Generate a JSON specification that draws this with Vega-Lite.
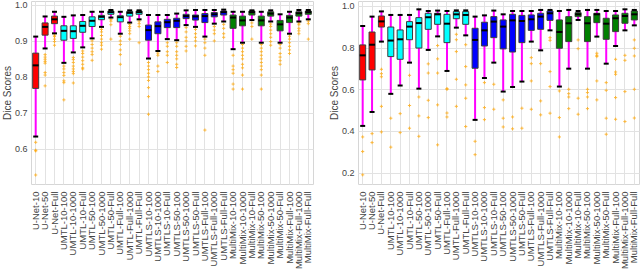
{
"$schema": "https://vega.github.io/schema/vega-lite/v6.json",
"background": "white",
"padding": {"left": 1, "top": 0, "right": 1, "bottom": 0},
"spacing": 14,
"config": {
 "font": "Liberation Sans",
 "view": {"stroke": "#d6d6d6", "strokeWidth": 1},
 "axis": {"labelFont": "Liberation Sans", "titleFont": "Liberation Sans", "labelColor": "#444444", "titleColor": "#444444", "gridColor": "#e2e2e2", "gridWidth": 1, "domain": false, "ticks": false, "titleFontWeight": "normal"}
},
"datasets": {
 "boxes": [
  {"p":"L","m":"U-Net-10","g":"U-Net","lo":0.634,"q1":0.768,"med":0.832,"q3":0.866,"hi":0.912},
  {"p":"L","m":"U-Net-50","g":"U-Net","lo":0.879,"q1":0.916,"med":0.939,"q3":0.950,"hi":0.968},
  {"p":"L","m":"U-Net-Full","g":"U-Net","lo":0.921,"q1":0.948,"med":0.960,"q3":0.969,"hi":0.981},
  {"p":"L","m":"UMTL-10-100","g":"UMTL","lo":0.839,"q1":0.902,"med":0.928,"q3":0.942,"hi":0.967},
  {"p":"L","m":"UMTL-10-1000","g":"UMTL","lo":0.868,"q1":0.907,"med":0.927,"q3":0.942,"hi":0.971},
  {"p":"L","m":"UMTL-10-Full","g":"UMTL","lo":0.882,"q1":0.924,"med":0.942,"q3":0.954,"hi":0.972},
  {"p":"L","m":"UMTL-50-100","g":"UMTL","lo":0.907,"q1":0.940,"med":0.956,"q3":0.967,"hi":0.981},
  {"p":"L","m":"UMTL-50-1000","g":"UMTL","lo":0.939,"q1":0.959,"med":0.967,"q3":0.971,"hi":0.981},
  {"p":"L","m":"UMTL-50-Full","g":"UMTL","lo":0.965,"q1":0.974,"med":0.980,"q3":0.983,"hi":0.986},
  {"p":"L","m":"UMTL-Full-100","g":"UMTL","lo":0.920,"q1":0.953,"med":0.966,"q3":0.970,"hi":0.981},
  {"p":"L","m":"UMTL-Full-1000","g":"UMTL","lo":0.951,"q1":0.969,"med":0.978,"q3":0.982,"hi":0.985},
  {"p":"L","m":"UMTL-Full-Full","g":"UMTL","lo":0.960,"q1":0.974,"med":0.980,"q3":0.983,"hi":0.985},
  {"p":"L","m":"UMTLS-10-100","g":"UMTLS","lo":0.851,"q1":0.902,"med":0.930,"q3":0.944,"hi":0.972},
  {"p":"L","m":"UMTLS-10-1000","g":"UMTLS","lo":0.872,"q1":0.920,"med":0.941,"q3":0.953,"hi":0.972},
  {"p":"L","m":"UMTLS-10-Full","g":"UMTLS","lo":0.905,"q1":0.937,"med":0.952,"q3":0.960,"hi":0.972},
  {"p":"L","m":"UMTLS-50-100","g":"UMTLS","lo":0.902,"q1":0.937,"med":0.956,"q3":0.963,"hi":0.976},
  {"p":"L","m":"UMTLS-50-1000","g":"UMTLS","lo":0.944,"q1":0.962,"med":0.969,"q3":0.974,"hi":0.985},
  {"p":"L","m":"UMTLS-50-Full","g":"UMTLS","lo":0.939,"q1":0.958,"med":0.968,"q3":0.972,"hi":0.986},
  {"p":"L","m":"UMTLS-Full-100","g":"UMTLS","lo":0.912,"q1":0.951,"med":0.969,"q3":0.976,"hi":0.986},
  {"p":"L","m":"UMTLS-Full-1000","g":"UMTLS","lo":0.948,"q1":0.967,"med":0.974,"q3":0.979,"hi":0.986},
  {"p":"L","m":"UMTLS-Full-Full","g":"UMTLS","lo":0.954,"q1":0.972,"med":0.980,"q3":0.983,"hi":0.987},
  {"p":"L","m":"MultiMix-10-100","g":"MultiMix","lo":0.877,"q1":0.935,"med":0.965,"q3":0.972,"hi":0.981},
  {"p":"L","m":"MultiMix-10-1000","g":"MultiMix","lo":0.895,"q1":0.942,"med":0.957,"q3":0.969,"hi":0.981},
  {"p":"L","m":"MultiMix-10-Full","g":"MultiMix","lo":0.958,"q1":0.972,"med":0.980,"q3":0.983,"hi":0.985},
  {"p":"L","m":"MultiMix-50-100","g":"MultiMix","lo":0.895,"q1":0.942,"med":0.957,"q3":0.969,"hi":0.981},
  {"p":"L","m":"MultiMix-50-1000","g":"MultiMix","lo":0.954,"q1":0.969,"med":0.976,"q3":0.981,"hi":0.985},
  {"p":"L","m":"MultiMix-50-Full","g":"MultiMix","lo":0.895,"q1":0.928,"med":0.946,"q3":0.957,"hi":0.974},
  {"p":"L","m":"MultiMix-Full-100","g":"MultiMix","lo":0.920,"q1":0.951,"med":0.965,"q3":0.971,"hi":0.981},
  {"p":"L","m":"MultiMix-Full-1000","g":"MultiMix","lo":0.954,"q1":0.969,"med":0.977,"q3":0.981,"hi":0.986},
  {"p":"L","m":"MultiMix-Full-Full","g":"MultiMix","lo":0.960,"q1":0.974,"med":0.980,"q3":0.983,"hi":0.986},
  {"p":"R","m":"U-Net-10","g":"U-Net","lo":0.424,"q1":0.645,"med":0.763,"q3":0.813,"hi":0.904},
  {"p":"R","m":"U-Net-50","g":"U-Net","lo":0.491,"q1":0.693,"med":0.814,"q3":0.875,"hi":0.949},
  {"p":"R","m":"U-Net-Full","g":"U-Net","lo":0.829,"q1":0.899,"med":0.926,"q3":0.952,"hi":0.974},
  {"p":"R","m":"UMTL-10-100","g":"UMTL","lo":0.578,"q1":0.757,"med":0.834,"q3":0.899,"hi":0.957},
  {"p":"R","m":"UMTL-10-1000","g":"UMTL","lo":0.618,"q1":0.744,"med":0.840,"q3":0.885,"hi":0.957},
  {"p":"R","m":"UMTL-10-Full","g":"UMTL","lo":0.728,"q1":0.838,"med":0.901,"q3":0.925,"hi":0.957},
  {"p":"R","m":"UMTL-50-100","g":"UMTL","lo":0.603,"q1":0.798,"med":0.918,"q3":0.944,"hi":0.984},
  {"p":"R","m":"UMTL-50-1000","g":"UMTL","lo":0.789,"q1":0.888,"med":0.946,"q3":0.965,"hi":0.976},
  {"p":"R","m":"UMTL-50-Full","g":"UMTL","lo":0.854,"q1":0.912,"med":0.960,"q3":0.965,"hi":0.978},
  {"p":"R","m":"UMTL-Full-100","g":"UMTL","lo":0.688,"q1":0.824,"med":0.915,"q3":0.960,"hi":0.976},
  {"p":"R","m":"UMTL-Full-1000","g":"UMTL","lo":0.896,"q1":0.939,"med":0.960,"q3":0.973,"hi":0.979},
  {"p":"R","m":"UMTL-Full-Full","g":"UMTL","lo":0.859,"q1":0.912,"med":0.957,"q3":0.973,"hi":0.979},
  {"p":"R","m":"UMTLS-10-100","g":"UMTLS","lo":0.453,"q1":0.701,"med":0.837,"q3":0.893,"hi":0.949},
  {"p":"R","m":"UMTLS-10-1000","g":"UMTLS","lo":0.654,"q1":0.808,"med":0.883,"q3":0.922,"hi":0.955},
  {"p":"R","m":"UMTLS-10-Full","g":"UMTLS","lo":0.728,"q1":0.848,"med":0.925,"q3":0.949,"hi":0.978},
  {"p":"R","m":"UMTLS-50-100","g":"UMTLS","lo":0.589,"q1":0.794,"med":0.901,"q3":0.933,"hi":0.960},
  {"p":"R","m":"UMTLS-50-1000","g":"UMTLS","lo":0.611,"q1":0.779,"med":0.931,"q3":0.960,"hi":0.976},
  {"p":"R","m":"UMTLS-50-Full","g":"UMTLS","lo":0.637,"q1":0.824,"med":0.928,"q3":0.955,"hi":0.976},
  {"p":"R","m":"UMTLS-Full-100","g":"UMTLS","lo":0.829,"q1":0.883,"med":0.936,"q3":0.957,"hi":0.976},
  {"p":"R","m":"UMTLS-Full-1000","g":"UMTLS","lo":0.787,"q1":0.888,"med":0.949,"q3":0.965,"hi":0.981},
  {"p":"R","m":"UMTLS-Full-Full","g":"UMTLS","lo":0.883,"q1":0.931,"med":0.965,"q3":0.976,"hi":0.981},
  {"p":"R","m":"MultiMix-10-100","g":"MultiMix","lo":0.613,"q1":0.797,"med":0.875,"q3":0.933,"hi":0.976},
  {"p":"R","m":"MultiMix-10-1000","g":"MultiMix","lo":0.699,"q1":0.829,"med":0.917,"q3":0.949,"hi":0.981},
  {"p":"R","m":"MultiMix-10-Full","g":"MultiMix","lo":0.933,"q1":0.949,"med":0.960,"q3":0.968,"hi":0.976},
  {"p":"R","m":"MultiMix-50-100","g":"MultiMix","lo":0.699,"q1":0.829,"med":0.917,"q3":0.949,"hi":0.981},
  {"p":"R","m":"MultiMix-50-1000","g":"MultiMix","lo":0.853,"q1":0.920,"med":0.960,"q3":0.965,"hi":0.981},
  {"p":"R","m":"MultiMix-50-Full","g":"MultiMix","lo":0.723,"q1":0.840,"med":0.915,"q3":0.941,"hi":0.976},
  {"p":"R","m":"MultiMix-Full-100","g":"MultiMix","lo":0.808,"q1":0.877,"med":0.941,"q3":0.957,"hi":0.976},
  {"p":"R","m":"MultiMix-Full-1000","g":"MultiMix","lo":0.883,"q1":0.917,"med":0.952,"q3":0.965,"hi":0.984},
  {"p":"R","m":"MultiMix-Full-Full","g":"MultiMix","lo":0.907,"q1":0.933,"med":0.960,"q3":0.976,"hi":0.981}
 ],
 "outliers": [
  {"p":"L","m":"U-Net-10","v":0.618},{"p":"L","m":"U-Net-10","v":0.596},{"p":"L","m":"U-Net-10","v":0.594},{"p":"L","m":"U-Net-10","v":0.527},
  {"p":"L","m":"U-Net-50","v":0.862},{"p":"L","m":"U-Net-50","v":0.855},{"p":"L","m":"U-Net-50","v":0.849},{"p":"L","m":"U-Net-50","v":0.843},{"p":"L","m":"U-Net-50","v":0.838},{"p":"L","m":"U-Net-50","v":0.812},{"p":"L","m":"U-Net-50","v":0.805},{"p":"L","m":"U-Net-50","v":0.775},
  {"p":"L","m":"U-Net-Full","v":0.916},{"p":"L","m":"U-Net-Full","v":0.912},{"p":"L","m":"U-Net-Full","v":0.905},{"p":"L","m":"U-Net-Full","v":0.898},{"p":"L","m":"U-Net-Full","v":0.888},
  {"p":"L","m":"UMTL-10-100","v":0.830},{"p":"L","m":"UMTL-10-100","v":0.822},{"p":"L","m":"UMTL-10-100","v":0.812},{"p":"L","m":"UMTL-10-100","v":0.804},{"p":"L","m":"UMTL-10-100","v":0.789},{"p":"L","m":"UMTL-10-100","v":0.784},{"p":"L","m":"UMTL-10-100","v":0.736},
  {"p":"L","m":"UMTL-10-1000","v":0.854},{"p":"L","m":"UMTL-10-1000","v":0.848},{"p":"L","m":"UMTL-10-1000","v":0.840},{"p":"L","m":"UMTL-10-1000","v":0.830},{"p":"L","m":"UMTL-10-1000","v":0.822},{"p":"L","m":"UMTL-10-1000","v":0.815},{"p":"L","m":"UMTL-10-1000","v":0.809},{"p":"L","m":"UMTL-10-1000","v":0.783},
  {"p":"L","m":"UMTL-10-Full","v":0.872},{"p":"L","m":"UMTL-10-Full","v":0.865},{"p":"L","m":"UMTL-10-Full","v":0.855},{"p":"L","m":"UMTL-10-Full","v":0.845},{"p":"L","m":"UMTL-10-Full","v":0.835},{"p":"L","m":"UMTL-10-Full","v":0.825},{"p":"L","m":"UMTL-10-Full","v":0.822},
  {"p":"L","m":"UMTL-50-100","v":0.900},{"p":"L","m":"UMTL-50-100","v":0.890},{"p":"L","m":"UMTL-50-100","v":0.880},{"p":"L","m":"UMTL-50-100","v":0.870},{"p":"L","m":"UMTL-50-100","v":0.862},{"p":"L","m":"UMTL-50-100","v":0.846},
  {"p":"L","m":"UMTL-50-1000","v":0.932},{"p":"L","m":"UMTL-50-1000","v":0.925},{"p":"L","m":"UMTL-50-1000","v":0.915},{"p":"L","m":"UMTL-50-1000","v":0.905},{"p":"L","m":"UMTL-50-1000","v":0.895},{"p":"L","m":"UMTL-50-1000","v":0.888},{"p":"L","m":"UMTL-50-1000","v":0.877},
  {"p":"L","m":"UMTL-50-Full","v":0.960},{"p":"L","m":"UMTL-50-Full","v":0.955},{"p":"L","m":"UMTL-50-Full","v":0.945},{"p":"L","m":"UMTL-50-Full","v":0.905},
  {"p":"L","m":"UMTL-Full-100","v":0.913},{"p":"L","m":"UMTL-Full-100","v":0.900},{"p":"L","m":"UMTL-Full-100","v":0.890},{"p":"L","m":"UMTL-Full-100","v":0.875},{"p":"L","m":"UMTL-Full-100","v":0.862},{"p":"L","m":"UMTL-Full-100","v":0.835},
  {"p":"L","m":"UMTL-Full-1000","v":0.946},{"p":"L","m":"UMTL-Full-1000","v":0.940},{"p":"L","m":"UMTL-Full-1000","v":0.935},{"p":"L","m":"UMTL-Full-1000","v":0.928},{"p":"L","m":"UMTL-Full-1000","v":0.920},{"p":"L","m":"UMTL-Full-1000","v":0.905},
  {"p":"L","m":"UMTL-Full-Full","v":0.955},{"p":"L","m":"UMTL-Full-Full","v":0.948},{"p":"L","m":"UMTL-Full-Full","v":0.940},{"p":"L","m":"UMTL-Full-Full","v":0.895},
  {"p":"L","m":"UMTLS-10-100","v":0.840},{"p":"L","m":"UMTLS-10-100","v":0.830},{"p":"L","m":"UMTLS-10-100","v":0.820},{"p":"L","m":"UMTLS-10-100","v":0.810},{"p":"L","m":"UMTLS-10-100","v":0.800},{"p":"L","m":"UMTLS-10-100","v":0.790},{"p":"L","m":"UMTLS-10-100","v":0.770},{"p":"L","m":"UMTLS-10-100","v":0.745},{"p":"L","m":"UMTLS-10-100","v":0.696},
  {"p":"L","m":"UMTLS-10-1000","v":0.866},{"p":"L","m":"UMTLS-10-1000","v":0.860},{"p":"L","m":"UMTLS-10-1000","v":0.830},{"p":"L","m":"UMTLS-10-1000","v":0.815},
  {"p":"L","m":"UMTLS-10-Full","v":0.895},{"p":"L","m":"UMTLS-10-Full","v":0.885},{"p":"L","m":"UMTLS-10-Full","v":0.870},{"p":"L","m":"UMTLS-10-Full","v":0.860},{"p":"L","m":"UMTLS-10-Full","v":0.840},
  {"p":"L","m":"UMTLS-50-100","v":0.895},{"p":"L","m":"UMTLS-50-100","v":0.885},{"p":"L","m":"UMTLS-50-100","v":0.870},{"p":"L","m":"UMTLS-50-100","v":0.860},{"p":"L","m":"UMTLS-50-100","v":0.850},{"p":"L","m":"UMTLS-50-100","v":0.835},{"p":"L","m":"UMTLS-50-100","v":0.826},
  {"p":"L","m":"UMTLS-50-1000","v":0.937},{"p":"L","m":"UMTLS-50-1000","v":0.925},{"p":"L","m":"UMTLS-50-1000","v":0.910},{"p":"L","m":"UMTLS-50-1000","v":0.900},{"p":"L","m":"UMTLS-50-1000","v":0.885},{"p":"L","m":"UMTLS-50-1000","v":0.872},
  {"p":"L","m":"UMTLS-50-Full","v":0.932},{"p":"L","m":"UMTLS-50-Full","v":0.920},{"p":"L","m":"UMTLS-50-Full","v":0.910},{"p":"L","m":"UMTLS-50-Full","v":0.900},{"p":"L","m":"UMTLS-50-Full","v":0.886},
  {"p":"L","m":"UMTLS-Full-100","v":0.905},{"p":"L","m":"UMTLS-Full-100","v":0.895},{"p":"L","m":"UMTLS-Full-100","v":0.880},{"p":"L","m":"UMTLS-Full-100","v":0.860},{"p":"L","m":"UMTLS-Full-100","v":0.652},
  {"p":"L","m":"UMTLS-Full-1000","v":0.940},{"p":"L","m":"UMTLS-Full-1000","v":0.930},{"p":"L","m":"UMTLS-Full-1000","v":0.920},{"p":"L","m":"UMTLS-Full-1000","v":0.900},
  {"p":"L","m":"UMTLS-Full-Full","v":0.946},{"p":"L","m":"UMTLS-Full-Full","v":0.935},{"p":"L","m":"UMTLS-Full-Full","v":0.920},{"p":"L","m":"UMTLS-Full-Full","v":0.910},
  {"p":"L","m":"MultiMix-10-100","v":0.860},{"p":"L","m":"MultiMix-10-100","v":0.830},{"p":"L","m":"MultiMix-10-100","v":0.820},{"p":"L","m":"MultiMix-10-100","v":0.810},{"p":"L","m":"MultiMix-10-100","v":0.780},{"p":"L","m":"MultiMix-10-100","v":0.766},
  {"p":"L","m":"MultiMix-10-1000","v":0.890},{"p":"L","m":"MultiMix-10-1000","v":0.880},{"p":"L","m":"MultiMix-10-1000","v":0.870},{"p":"L","m":"MultiMix-10-1000","v":0.860},{"p":"L","m":"MultiMix-10-1000","v":0.850},{"p":"L","m":"MultiMix-10-1000","v":0.835},{"p":"L","m":"MultiMix-10-1000","v":0.825},{"p":"L","m":"MultiMix-10-1000","v":0.805},{"p":"L","m":"MultiMix-10-1000","v":0.766},
  {"p":"L","m":"MultiMix-10-Full","v":0.950},{"p":"L","m":"MultiMix-10-Full","v":0.940},{"p":"L","m":"MultiMix-10-Full","v":0.905},
  {"p":"L","m":"MultiMix-50-100","v":0.890},{"p":"L","m":"MultiMix-50-100","v":0.880},{"p":"L","m":"MultiMix-50-100","v":0.870},{"p":"L","m":"MultiMix-50-100","v":0.860},{"p":"L","m":"MultiMix-50-100","v":0.850},{"p":"L","m":"MultiMix-50-100","v":0.840},{"p":"L","m":"MultiMix-50-100","v":0.830},{"p":"L","m":"MultiMix-50-100","v":0.820},{"p":"L","m":"MultiMix-50-100","v":0.805},{"p":"L","m":"MultiMix-50-100","v":0.766},
  {"p":"L","m":"MultiMix-50-1000","v":0.947},{"p":"L","m":"MultiMix-50-1000","v":0.940},{"p":"L","m":"MultiMix-50-1000","v":0.930},{"p":"L","m":"MultiMix-50-1000","v":0.920},{"p":"L","m":"MultiMix-50-1000","v":0.910},{"p":"L","m":"MultiMix-50-1000","v":0.898},{"p":"L","m":"MultiMix-50-1000","v":0.888},
  {"p":"L","m":"MultiMix-50-Full","v":0.890},{"p":"L","m":"MultiMix-50-Full","v":0.880},{"p":"L","m":"MultiMix-50-Full","v":0.865},{"p":"L","m":"MultiMix-50-Full","v":0.855},{"p":"L","m":"MultiMix-50-Full","v":0.845},{"p":"L","m":"MultiMix-50-Full","v":0.835},
  {"p":"L","m":"MultiMix-Full-100","v":0.913},{"p":"L","m":"MultiMix-Full-100","v":0.905},{"p":"L","m":"MultiMix-Full-100","v":0.895},{"p":"L","m":"MultiMix-Full-100","v":0.885},{"p":"L","m":"MultiMix-Full-100","v":0.875},{"p":"L","m":"MultiMix-Full-100","v":0.865},
  {"p":"L","m":"MultiMix-Full-1000","v":0.950},{"p":"L","m":"MultiMix-Full-1000","v":0.945},{"p":"L","m":"MultiMix-Full-1000","v":0.935},{"p":"L","m":"MultiMix-Full-1000","v":0.928},{"p":"L","m":"MultiMix-Full-1000","v":0.920},
  {"p":"L","m":"MultiMix-Full-Full","v":0.955},{"p":"L","m":"MultiMix-Full-Full","v":0.948},{"p":"L","m":"MultiMix-Full-Full","v":0.905},
  {"p":"R","m":"U-Net-10","v":0.371},{"p":"R","m":"U-Net-10","v":0.301},{"p":"R","m":"U-Net-10","v":0.189},
  {"p":"R","m":"U-Net-50","v":0.387},{"p":"R","m":"U-Net-50","v":0.344},
  {"p":"R","m":"U-Net-Full","v":0.696},{"p":"R","m":"U-Net-Full","v":0.675},{"p":"R","m":"U-Net-Full","v":0.660},{"p":"R","m":"U-Net-Full","v":0.518},{"p":"R","m":"U-Net-Full","v":0.395},
  {"p":"R","m":"UMTL-10-100","v":0.461},{"p":"R","m":"UMTL-10-100","v":0.322},
  {"p":"R","m":"UMTL-10-1000","v":0.483},{"p":"R","m":"UMTL-10-1000","v":0.392},
  {"p":"R","m":"UMTL-10-Full","v":0.667},{"p":"R","m":"UMTL-10-Full","v":0.522},{"p":"R","m":"UMTL-10-Full","v":0.413},
  {"p":"R","m":"UMTL-50-100","v":0.563},{"p":"R","m":"UMTL-50-100","v":0.472},{"p":"R","m":"UMTL-50-100","v":0.374},
  {"p":"R","m":"UMTL-50-1000","v":0.722},{"p":"R","m":"UMTL-50-1000","v":0.678},{"p":"R","m":"UMTL-50-1000","v":0.547},{"p":"R","m":"UMTL-50-1000","v":0.464},
  {"p":"R","m":"UMTL-50-Full","v":0.810},{"p":"R","m":"UMTL-50-Full","v":0.746},{"p":"R","m":"UMTL-50-Full","v":0.678},{"p":"R","m":"UMTL-50-Full","v":0.525},{"p":"R","m":"UMTL-50-Full","v":0.333},
  {"p":"R","m":"UMTL-Full-100","v":0.603},{"p":"R","m":"UMTL-Full-100","v":0.600},{"p":"R","m":"UMTL-Full-100","v":0.486},{"p":"R","m":"UMTL-Full-100","v":0.467},
  {"p":"R","m":"UMTL-Full-1000","v":0.864},{"p":"R","m":"UMTL-Full-1000","v":0.838},{"p":"R","m":"UMTL-Full-1000","v":0.781},{"p":"R","m":"UMTL-Full-1000","v":0.648},{"p":"R","m":"UMTL-Full-1000","v":0.518},
  {"p":"R","m":"UMTL-Full-Full","v":0.814},{"p":"R","m":"UMTL-Full-Full","v":0.709},{"p":"R","m":"UMTL-Full-Full","v":0.621},{"p":"R","m":"UMTL-Full-Full","v":0.557},{"p":"R","m":"UMTL-Full-Full","v":0.421},
  {"p":"R","m":"UMTLS-10-100","v":0.350},{"p":"R","m":"UMTLS-10-100","v":0.286},
  {"p":"R","m":"UMTLS-10-1000","v":0.632},{"p":"R","m":"UMTLS-10-1000","v":0.512},{"p":"R","m":"UMTLS-10-1000","v":0.454},
  {"p":"R","m":"UMTLS-10-Full","v":0.624},{"p":"R","m":"UMTLS-10-Full","v":0.504},
  {"p":"R","m":"UMTLS-50-100","v":0.549},{"p":"R","m":"UMTLS-50-100","v":0.461},{"p":"R","m":"UMTLS-50-100","v":0.419},
  {"p":"R","m":"UMTLS-50-1000","v":0.467},{"p":"R","m":"UMTLS-50-1000","v":0.410},
  {"p":"R","m":"UMTLS-50-Full","v":0.509},{"p":"R","m":"UMTLS-50-Full","v":0.413},
  {"p":"R","m":"UMTLS-Full-100","v":0.752},{"p":"R","m":"UMTLS-Full-100","v":0.723},{"p":"R","m":"UMTLS-Full-100","v":0.640},{"p":"R","m":"UMTLS-Full-100","v":0.504},
  {"p":"R","m":"UMTLS-Full-1000","v":0.723},{"p":"R","m":"UMTLS-Full-1000","v":0.544},{"p":"R","m":"UMTLS-Full-1000","v":0.477},
  {"p":"R","m":"UMTLS-Full-Full","v":0.848},{"p":"R","m":"UMTLS-Full-Full","v":0.835},{"p":"R","m":"UMTLS-Full-Full","v":0.685},{"p":"R","m":"UMTLS-Full-Full","v":0.613},{"p":"R","m":"UMTLS-Full-Full","v":0.485},
  {"p":"R","m":"MultiMix-10-100","v":0.592},{"p":"R","m":"MultiMix-10-100","v":0.464},{"p":"R","m":"MultiMix-10-100","v":0.371},
  {"p":"R","m":"MultiMix-10-1000","v":0.600},{"p":"R","m":"MultiMix-10-1000","v":0.579},{"p":"R","m":"MultiMix-10-1000","v":0.563},{"p":"R","m":"MultiMix-10-1000","v":0.507},
  {"p":"R","m":"MultiMix-10-Full","v":0.837},{"p":"R","m":"MultiMix-10-Full","v":0.795},{"p":"R","m":"MultiMix-10-Full","v":0.557},{"p":"R","m":"MultiMix-10-Full","v":0.480},
  {"p":"R","m":"MultiMix-50-100","v":0.600},{"p":"R","m":"MultiMix-50-100","v":0.584},{"p":"R","m":"MultiMix-50-100","v":0.563},{"p":"R","m":"MultiMix-50-100","v":0.507},
  {"p":"R","m":"MultiMix-50-1000","v":0.773},{"p":"R","m":"MultiMix-50-1000","v":0.763},{"p":"R","m":"MultiMix-50-1000","v":0.757},{"p":"R","m":"MultiMix-50-1000","v":0.640},{"p":"R","m":"MultiMix-50-1000","v":0.549},
  {"p":"R","m":"MultiMix-50-Full","v":0.632},{"p":"R","m":"MultiMix-50-Full","v":0.595},{"p":"R","m":"MultiMix-50-Full","v":0.461},{"p":"R","m":"MultiMix-50-Full","v":0.384},
  {"p":"R","m":"MultiMix-Full-100","v":0.744},{"p":"R","m":"MultiMix-Full-100","v":0.683},{"p":"R","m":"MultiMix-Full-100","v":0.672},{"p":"R","m":"MultiMix-Full-100","v":0.560},{"p":"R","m":"MultiMix-Full-100","v":0.456},
  {"p":"R","m":"MultiMix-Full-1000","v":0.763},{"p":"R","m":"MultiMix-Full-1000","v":0.739},{"p":"R","m":"MultiMix-Full-1000","v":0.589},{"p":"R","m":"MultiMix-Full-1000","v":0.445},
  {"p":"R","m":"MultiMix-Full-Full","v":0.837},{"p":"R","m":"MultiMix-Full-Full","v":0.797},{"p":"R","m":"MultiMix-Full-Full","v":0.760},{"p":"R","m":"MultiMix-Full-Full","v":0.600},{"p":"R","m":"MultiMix-Full-Full","v":0.462}
 ]
},
"hconcat": [
 {
  "width": 282, "height": 183,
  "layer": [
   {"data": {"name": "outliers"}, "transform": [{"filter": "datum.p === 'L'"}],
    "mark": {"type": "point", "shape": "M-1,0L1,0M0,-1L0,1", "filled": false, "stroke": "#ffa500", "strokeWidth": 1, "size": 10, "opacity": 0.75},
    "encoding": {
     "x": {"field": "m", "type": "nominal", "sort": null, "scale": {"domain": ["U-Net-10","U-Net-50","U-Net-Full","UMTL-10-100","UMTL-10-1000","UMTL-10-Full","UMTL-50-100","UMTL-50-1000","UMTL-50-Full","UMTL-Full-100","UMTL-Full-1000","UMTL-Full-Full","UMTLS-10-100","UMTLS-10-1000","UMTLS-10-Full","UMTLS-50-100","UMTLS-50-1000","UMTLS-50-Full","UMTLS-Full-100","UMTLS-Full-1000","UMTLS-Full-Full","MultiMix-10-100","MultiMix-10-1000","MultiMix-10-Full","MultiMix-50-100","MultiMix-50-1000","MultiMix-50-Full","MultiMix-Full-100","MultiMix-Full-1000","MultiMix-Full-Full"], "paddingInner": 0, "paddingOuter": 0},
      "axis": {"title": null, "labelAngle": -90, "labelAlign": "right", "labelBaseline": "middle", "labelFontSize": 9.5, "labelPadding": 7, "labelOverlap": false, "grid": true, "bandPosition": 0.5}},
     "y": {"field": "v", "type": "quantitative", "scale": {"domain": [0.502, 1.011], "nice": false, "zero": false},
      "axis": {"title": "Dice Scores", "titleFontSize": 10, "titlePadding": 2, "labelFontSize": 9, "labelPadding": 4, "values": [0.6, 0.7, 0.8, 0.9, 1.0], "format": ".1f", "grid": true}}
    }},
   {"data": {"name": "boxes"}, "transform": [{"filter": "datum.p === 'L'"}],
    "mark": {"type": "rule", "color": "#ff00ff", "strokeWidth": 2},
    "encoding": {"x": {"field": "m", "type": "nominal", "sort": null}, "y": {"field": "lo", "type": "quantitative"}, "y2": {"field": "hi"}}},
   {"data": {"name": "boxes"}, "transform": [{"filter": "datum.p === 'L'"}],
    "mark": {"type": "bar", "size": 6, "stroke": "#3c3c3c", "strokeWidth": 1},
    "encoding": {"x": {"field": "m", "type": "nominal", "sort": null}, "y": {"field": "q1", "type": "quantitative"}, "y2": {"field": "q3"},
     "fill": {"field": "g", "type": "nominal", "scale": {"domain": ["U-Net", "UMTL", "UMTLS", "MultiMix"], "range": ["#ff0000", "#00ffff", "#0000ff", "#008000"]}, "legend": null}}},
   {"data": {"name": "boxes"}, "transform": [{"filter": "datum.p === 'L'"}],
    "mark": {"type": "tick", "color": "#000000", "thickness": 2, "size": 6, "opacity": 1},
    "encoding": {"x": {"field": "m", "type": "nominal", "sort": null}, "y": {"field": "med", "type": "quantitative"}}},
   {"data": {"name": "boxes"}, "transform": [{"filter": "datum.p === 'L'"}],
    "mark": {"type": "tick", "color": "#000000", "thickness": 2, "size": 5, "opacity": 1},
    "encoding": {"x": {"field": "m", "type": "nominal", "sort": null}, "y": {"field": "lo", "type": "quantitative"}}},
   {"data": {"name": "boxes"}, "transform": [{"filter": "datum.p === 'L'"}],
    "mark": {"type": "tick", "color": "#000000", "thickness": 2, "size": 5, "opacity": 1},
    "encoding": {"x": {"field": "m", "type": "nominal", "sort": null}, "y": {"field": "hi", "type": "quantitative"}}}
  ]
 },
 {
  "width": 281, "height": 183,
  "layer": [
   {"data": {"name": "outliers"}, "transform": [{"filter": "datum.p === 'R'"}],
    "mark": {"type": "point", "shape": "M-1,0L1,0M0,-1L0,1", "filled": false, "stroke": "#ffa500", "strokeWidth": 1, "size": 10, "opacity": 0.75},
    "encoding": {
     "x": {"field": "m", "type": "nominal", "sort": null, "scale": {"domain": ["U-Net-10","U-Net-50","U-Net-Full","UMTL-10-100","UMTL-10-1000","UMTL-10-Full","UMTL-50-100","UMTL-50-1000","UMTL-50-Full","UMTL-Full-100","UMTL-Full-1000","UMTL-Full-Full","UMTLS-10-100","UMTLS-10-1000","UMTLS-10-Full","UMTLS-50-100","UMTLS-50-1000","UMTLS-50-Full","UMTLS-Full-100","UMTLS-Full-1000","UMTLS-Full-Full","MultiMix-10-100","MultiMix-10-1000","MultiMix-10-Full","MultiMix-50-100","MultiMix-50-1000","MultiMix-50-Full","MultiMix-Full-100","MultiMix-Full-1000","MultiMix-Full-Full"], "paddingInner": 0, "paddingOuter": 0},
      "axis": {"title": null, "labelAngle": -90, "labelAlign": "right", "labelBaseline": "middle", "labelFontSize": 9.5, "labelPadding": 7, "labelOverlap": false, "grid": true, "bandPosition": 0.5}},
     "y": {"field": "v", "type": "quantitative", "scale": {"domain": [0.145, 1.024], "nice": false, "zero": false},
      "axis": {"title": "Dice Scores", "titleFontSize": 10, "titlePadding": 2, "labelFontSize": 9, "labelPadding": 4, "values": [0.2, 0.3, 0.4, 0.5, 0.6, 0.7, 0.8, 0.9, 1.0], "format": ".1f", "grid": true}}
    }},
   {"data": {"name": "boxes"}, "transform": [{"filter": "datum.p === 'R'"}],
    "mark": {"type": "rule", "color": "#ff00ff", "strokeWidth": 2},
    "encoding": {"x": {"field": "m", "type": "nominal", "sort": null}, "y": {"field": "lo", "type": "quantitative"}, "y2": {"field": "hi"}}},
   {"data": {"name": "boxes"}, "transform": [{"filter": "datum.p === 'R'"}],
    "mark": {"type": "bar", "size": 6, "stroke": "#3c3c3c", "strokeWidth": 1},
    "encoding": {"x": {"field": "m", "type": "nominal", "sort": null}, "y": {"field": "q1", "type": "quantitative"}, "y2": {"field": "q3"},
     "fill": {"field": "g", "type": "nominal", "scale": {"domain": ["U-Net", "UMTL", "UMTLS", "MultiMix"], "range": ["#ff0000", "#00ffff", "#0000ff", "#008000"]}, "legend": null}}},
   {"data": {"name": "boxes"}, "transform": [{"filter": "datum.p === 'R'"}],
    "mark": {"type": "tick", "color": "#000000", "thickness": 2, "size": 6, "opacity": 1},
    "encoding": {"x": {"field": "m", "type": "nominal", "sort": null}, "y": {"field": "med", "type": "quantitative"}}},
   {"data": {"name": "boxes"}, "transform": [{"filter": "datum.p === 'R'"}],
    "mark": {"type": "tick", "color": "#000000", "thickness": 2, "size": 5, "opacity": 1},
    "encoding": {"x": {"field": "m", "type": "nominal", "sort": null}, "y": {"field": "lo", "type": "quantitative"}}},
   {"data": {"name": "boxes"}, "transform": [{"filter": "datum.p === 'R'"}],
    "mark": {"type": "tick", "color": "#000000", "thickness": 2, "size": 5, "opacity": 1},
    "encoding": {"x": {"field": "m", "type": "nominal", "sort": null}, "y": {"field": "hi", "type": "quantitative"}}}
  ]
 }
]
}
